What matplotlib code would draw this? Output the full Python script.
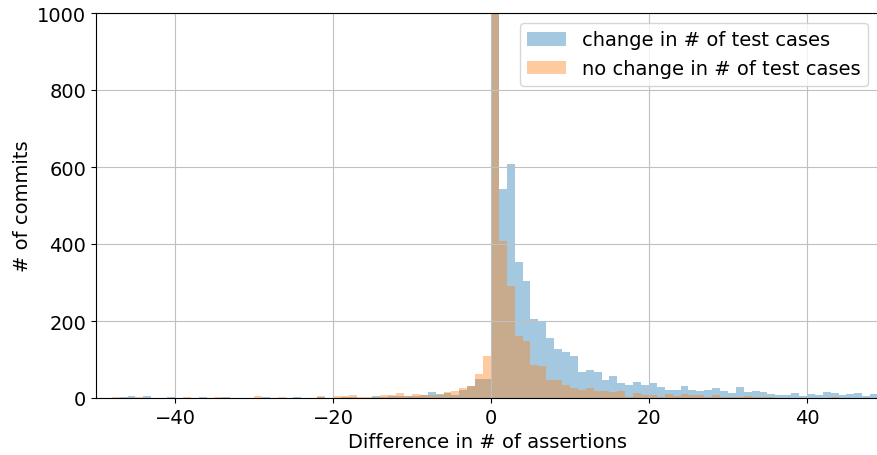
import numpy as np
import matplotlib.pyplot as plt

# bin edges: one bin per integer difference, -50 .. 49
bin_left = np.arange(-50, 50)

# commits where the number of test cases changed (bins -50 .. 49)
change_counts = [
    1, 1, 1, 2, 4, 1, 4, 1, 1, 2,      # -50 .. -41
    1, 1, 1, 2, 1, 1, 2, 1, 1, 1,      # -40 .. -31
    1, 2, 1, 1, 1, 2, 1, 1, 2, 1,      # -30 .. -21
    1, 2, 2, 1, 1, 4, 2, 4, 4, 4,      # -20 .. -11
    4, 8, 16, 10, 13, 9, 20, 30, 49, 49,  # -10 .. -1
    2600, 542, 607, 352, 303, 204, 200, 157, 128, 119,  # 0 .. 9
    108, 67, 74, 67, 48, 56, 38, 33, 41, 33,   # 10 .. 19
    38, 28, 20, 20, 30, 22, 17, 20, 25, 17,    # 20 .. 29
    12, 28, 15, 17, 15, 10, 7, 7, 12, 4,       # 30 .. 39
    10, 7, 15, 12, 7, 10, 12, 4, 10, 8,        # 40 .. 49
]

# commits where the number of test cases stayed the same
no_change_counts = [
    1, 1, 2, 1, 1, 2, 1, 1, 1, 1,      # -50 .. -41
    1, 2, 1, 1, 1, 2, 1, 1, 1, 1,      # -40 .. -31
    4, 1, 1, 2, 1, 1, 1, 1, 4, 1,      # -30 .. -21
    4, 5, 7, 2, 3, 2, 8, 9, 12, 6,     # -20 .. -11
    10, 7, 8, 9, 15, 17, 25, 30, 63, 108,  # -10 .. -1
    2000, 408, 290, 160, 147, 87, 82, 46, 46, 33,  # 0 .. 9
    26, 20, 25, 17, 17, 15, 17, 3, 12, 7,      # 10 .. 19
    7, 2, 10, 5, 10, 7, 7, 2, 7, 2,            # 20 .. 29
    2, 2, 4, 2, 2, 2, 1, 1, 1, 1,              # 30 .. 39
    1, 1, 1, 2, 1, 1, 1, 1, 1, 1,              # 40 .. 49
]

labels = ["change in # of test cases", "no change in # of test cases"]

plt.rcParams['font.size'] = 14

fig = plt.figure(figsize=(8.77, 4.56), dpi=100)
ax = fig.add_axes([96 / 877, 57 / 456, 782 / 877, 385 / 456])

edges = np.arange(-50, 51)
ax.hist(bin_left, bins=edges, weights=change_counts, alpha=0.4,
        color="C0", label=labels[0])
ax.hist(bin_left, bins=edges, weights=no_change_counts, alpha=0.4,
        color="C1", label=labels[1])

ax.set_xlim(-50, 49)
ax.set_ylim(0, 1000)
ax.set_xticks([-40, -20, 0, 20, 40])
ax.set_yticks([0, 200, 400, 600, 800, 1000])
ax.grid(True, color="#c0c0c0")
ax.set_xlabel("Difference in # of assertions")
ax.set_ylabel("# of commits")
ax.legend(loc="upper right")

fig.savefig("out.png", dpi=100)
